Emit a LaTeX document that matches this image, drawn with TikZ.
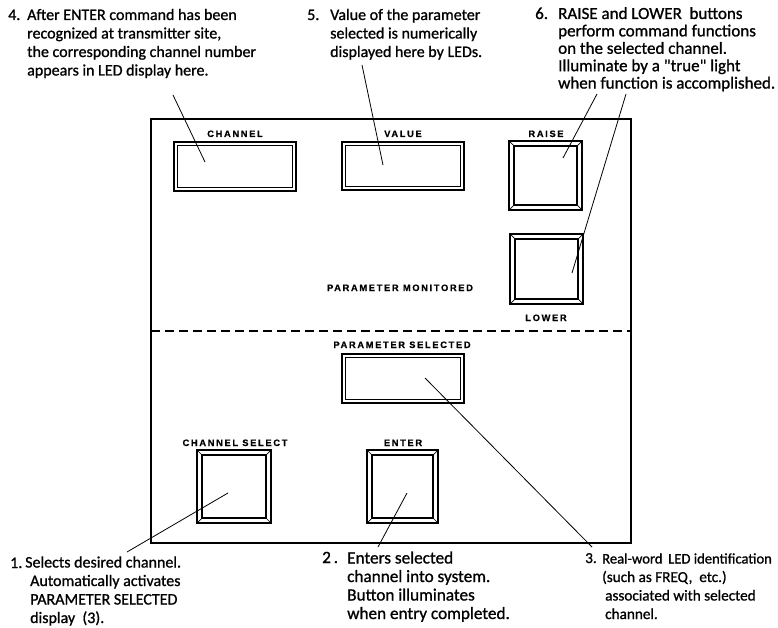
\documentclass[tikz,border=0pt]{standalone}
\usepackage{fontspec}
\setmainfont[FakeBold=1]{Carlito}
\newfontfamily\platefont[LetterSpace=18,FakeBold=0.6]{Liberation Sans}
\begin{document}
\begin{tikzpicture}[x=1pt,y=-1pt,
  note/.style={font=\fontsize{#1}{18.5}\selectfont, anchor=base west, inner sep=0pt, align=left},
  note/.default=16,
  plate/.style={font=\platefont\bfseries\fontsize{9.3}{10}\selectfont, anchor=base, inner sep=0pt},
  display/.style={draw, line width=1.6pt, inner sep=0pt, outer sep=0pt},
  button/.style={draw, line width=1.2pt, inner sep=0pt, outer sep=0pt},
  leader/.style={line width=0.8pt},
  panel/.style={line width=1.2pt}]
\useasboundingbox (0,0) rectangle (778,628);

% front panel and divider
\draw[panel] (151,119) rectangle (631,543);
\draw[panel, dash pattern=on 9pt off 5pt] (151,331) -- (631,331);

% displays
\node[display, minimum width=122pt, minimum height=49pt] (chan) at (235,166.5) {};
\node[display, minimum width=122pt, minimum height=48pt] (val) at (403,166) {};
\node[display, minimum width=122pt, minimum height=49pt] (psel) at (403,378.5) {};
\foreach \d in {chan,val,psel}
  \draw[line width=0.7pt] ([shift={(3.5,3.5)}]\d.north west) rectangle ([shift={(-3.5,-3.5)}]\d.south east);

% push buttons
\node[button, minimum width=73pt, minimum height=69pt] (raise) at (545.5,175.5) {};
\node[button, minimum width=73pt, minimum height=70pt] (lower) at (546.5,269) {};
\node[button, minimum width=74pt, minimum height=73pt] (csel) at (234,486.5) {};
\node[button, minimum width=71pt, minimum height=73pt] (enter) at (402.5,486.5) {};
\foreach \b in {raise,lower,csel,enter}{
  \draw[line width=1.3pt] ([shift={(5,5)}]\b.north west) rectangle ([shift={(-5,-5)}]\b.south east);
  \draw[line width=0.7pt] (\b.north west) -- ([shift={(5,5)}]\b.north west)
    (\b.north east) -- ([shift={(-5,5)}]\b.north east)
    (\b.south west) -- ([shift={(5,-5)}]\b.south west)
    (\b.south east) -- ([shift={(-5,-5)}]\b.south east);
}

% panel legends
\node[plate] (lchan) at (235,137) {CHANNEL};
\node[plate] (lval) at (403,137) {VALUE};
\node[plate] (lraise) at (546,137) {RAISE};
\node[plate] (lmon) at (400,291) {PARAMETER MONITORED};
\node[plate] (llower) at (546,321) {LOWER};
\node[plate] (lpsel) at (402,348) {PARAMETER SELECTED};
\node[plate] (lcsel) at (235,446) {CHANNEL SELECT};
\node[plate] (lenter) at (403,446) {ENTER};

% numbered notes (a note node sits on the baseline of its last line)
\node[note] (n4) at (8,20) {4.};
\node[note] (t4) at (27,75.5) {After ENTER command has been\\recognized at transmitter site,\\the corresponding channel number\\appears in LED display here.};
\node[note] (n5) at (307,20) {5.};
\node[note] (t5) at (330,57) {Value of the parameter\\selected is numerically\\displayed here by LEDs.};
\node[note=17] (n6) at (535,19) {6.};
\node[note=17, font=\fontsize{17}{17.4}\selectfont] (t6) at (558,88.6) {RAISE and LOWER\ \ buttons\\perform command functions\\on the selected channel.\\Illuminate by a \textquotedbl true\textquotedbl\ light\\when function is accomplished.};
\node[note] (n1) at (10,568) {1.};
\node[note] (t1) at (25,623) {Selects desired channel.\\\hspace*{5pt}Automatically activates\\\hspace*{5pt}PARAMETER SELECTED\\\hspace*{5pt}display\ \ (3).};
\node[note=17.2] (n2) at (322,563) {2\,.};
\node[note=17.2] (t2) at (347,619) {Enters selected\\channel into system.\\Button illuminates\\when entry completed.};
\node[note=15.2] (n3) at (585,563) {3.};
\node[note=15.2] (t3) at (602,619) {{\fontsize{14.6}{18.5}\selectfont Real-word\ \,LED identification}\\(such as FREQ,\ \ etc.)\\\hspace*{3pt}associated with selected\\\hspace*{3pt}channel.};

% leader lines
\coordinate (a4) at (173,95);   \coordinate (b4) at (205,162);
\coordinate (a5) at (362,65);   \coordinate (b5) at (383,165);
\coordinate (a6) at (597,94);   \coordinate (b6) at (563,158);
\coordinate (c6) at (626,94);   \coordinate (d6) at (572,273);
\coordinate (a1) at (127,552);  \coordinate (b1) at (228,493);
\coordinate (a2) at (378,547);  \coordinate (b2) at (407,493);
\coordinate (a3) at (592,547);  \coordinate (b3) at (425,378);
\draw[leader] (a4) -- (b4);
\draw[leader] (a5) -- (b5);
\draw[leader] (a6) -- (b6);
\draw[leader] (c6) -- (d6);
\draw[leader] (a1) -- (b1);
\draw[leader] (a2) -- (b2);
\draw[leader] (a3) -- (b3);
\end{tikzpicture}
\end{document}
